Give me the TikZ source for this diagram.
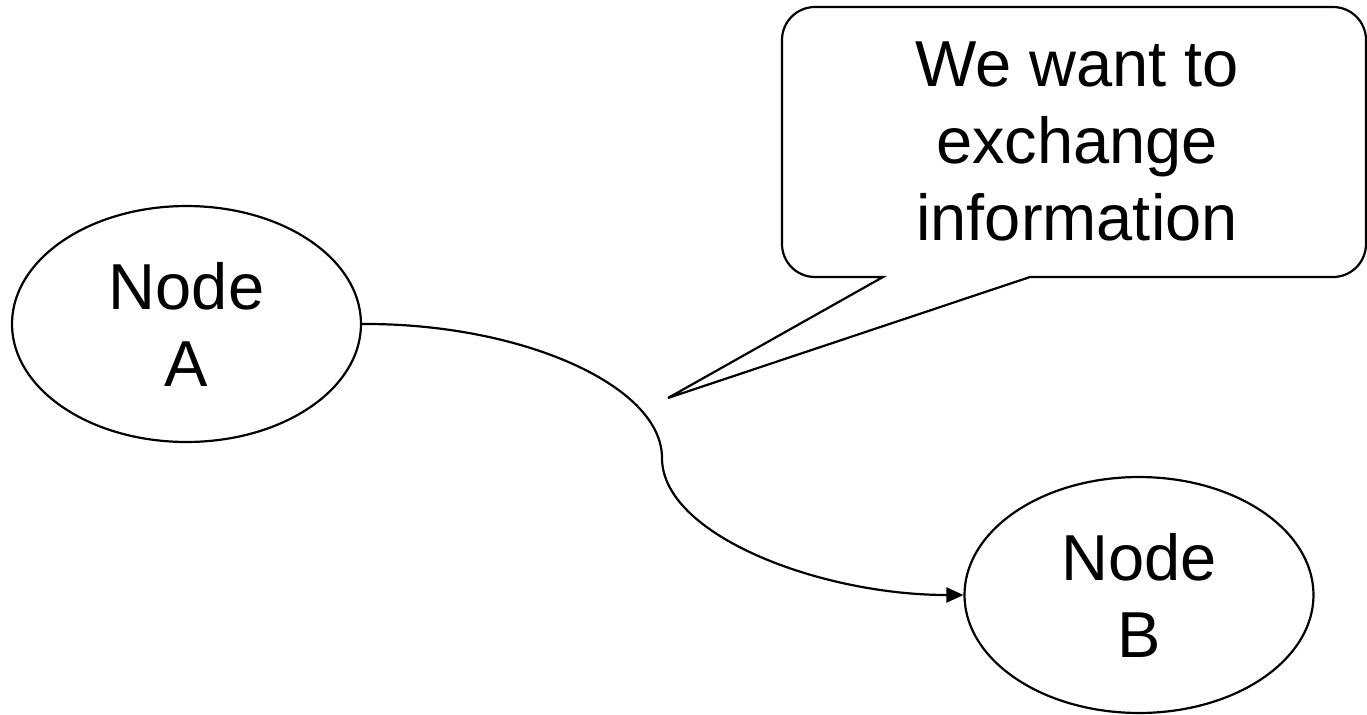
\documentclass[tikz,border=0pt]{standalone}
\usepackage{fontspec}
\setmainfont{Liberation Sans}
\usetikzlibrary{shapes.geometric,arrows.meta}
\begin{document}
\begin{tikzpicture}[x=0.02cm,y=-0.02cm,line width=1.25pt,
	bubble/.style={draw,ellipse,minimum width=6.98cm,minimum height=4.72cm,inner sep=0pt,align=center,font=\fontsize{37}{43.8}\selectfont},
	says/.style={align=center,font=\fontsize{37}{43.8}\selectfont}]
	\useasboundingbox (0,0) rectangle (1367,714);
	\node[bubble] (nodeA) at (186.5,324) {Node\\A};
	\node[bubble] (nodeB) at (1139,595) {Node\\B};
	\node[says] (msg) at (1077,141) {We want to\\exchange\\information};
	\coordinate (tip) at (668,398);
	% speech bubble round the message
	\draw (tip) -- (883,277) [rounded corners=0.66cm] -- (782,277) -- (782,7) -- (1366,7) -- (1366,277) [sharp corners] -- (1030,277) -- cycle;
	% link from A to B
	\draw[-{Triangle[length=0.34cm,width=0.3cm]}] (nodeA.east) .. controls (520,323) and (662,385) .. (662,458) .. controls (662,535) and (820,595) .. (nodeB.west);
\end{tikzpicture}
\end{document}
